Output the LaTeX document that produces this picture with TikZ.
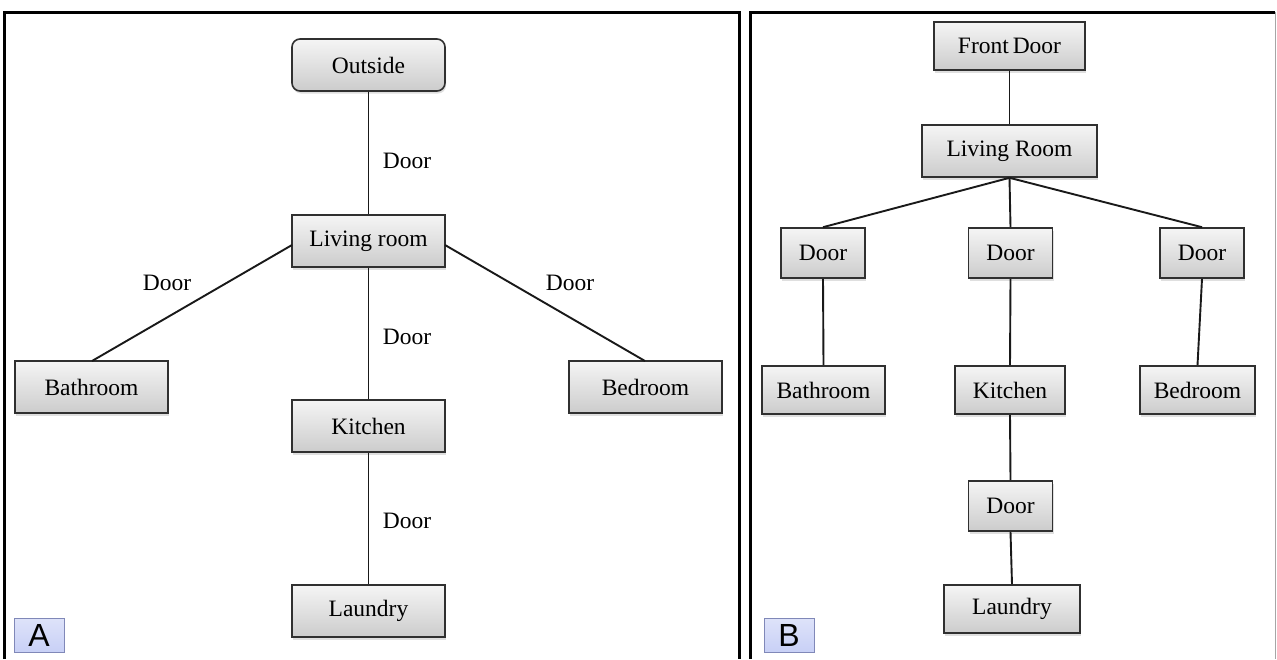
\documentclass[tikz,border=0pt]{standalone}
\usepackage{fontspec}
\setmainfont{Liberation Serif}
\newfontfamily\labelfont{Liberation Sans}
\usetikzlibrary{shadows}
\definecolor{boxedge}{HTML}{303030}
\definecolor{tagblue}{HTML}{C8D0F6}
\definecolor{tagedge}{HTML}{8088B8}
\tikzset{
  room/.style={draw=boxedge, line width=1.6pt, top color=gray!8, bottom color=gray!40,
    minimum height=52pt, inner sep=0pt, font=\fontsize{23.5}{25}\selectfont,
    drop shadow={opacity=0.25, shadow xshift=1pt, shadow yshift=-2.5pt}},
  roomb/.style={room, minimum height=48pt},
  link/.style={line width=1.9pt, black!90},
  doorlabel/.style={font=\fontsize{23.5}{25}\selectfont},
  panel/.style={line width=3pt, black},
  tag/.style={draw=tagedge, line width=0.8pt, top color=tagblue!60, bottom color=tagblue,
    minimum width=50pt, minimum height=34pt, inner sep=0pt,
    font=\labelfont\fontsize{32}{34}\selectfont}
}
\begin{document}
\begin{tikzpicture}[x=1pt,y=-1pt]
\useasboundingbox (0,0) rectangle (1277,659);
\fill[white] (0,0) rectangle (1277,659);

% panel frames
\draw[panel] (4.5,659) -- (4.5,12) -- (739,12) -- (739,659);
\draw[panel] (750.5,659) -- (750.5,12) -- (1275,12);
\draw[gray!70, line width=1pt] (1275,12) -- (1275,659);

% ---------- floor plan graph ----------
\node[room, rounded corners=8pt, minimum width=153pt] (out) at (368.5,65) {Outside};
\node[room, minimum width=153pt] (liv) at (368.5,241) {Living room};
\node[room, minimum width=153pt] (bath) at (91.5,387) {Bathroom};
\node[room, minimum width=153pt] (bed) at (645.5,387) {Bedroom};
\node[room, minimum width=153pt] (kit) at (368.5,426) {Kitchen};
\node[room, minimum width=153pt] (lau) at (368.5,611) {Laundry};

\coordinate (livL) at (292,245);
\coordinate (livR) at (445,245);
\coordinate (bathT) at (92,361);
\coordinate (bedT) at (645,361);

\draw[link] (out.south) -- (liv.north);
\draw[link] (livL) -- (bathT);
\draw[link] (livR) -- (bedT);
\draw[link] (liv.south) -- (kit.north);
\draw[link] (kit.south) -- (lau.north);

\node[doorlabel] (d1) at (407,161) {Door};
\node[doorlabel] (d2) at (167,283) {Door};
\node[doorlabel] (d3) at (570,283) {Door};
\node[doorlabel] (d4) at (407,337) {Door};
\node[doorlabel] (d5) at (407,521) {Door};

\node[tag] (tagA) at (39,635) {A};

% ---------- tree graph ----------
\node[roomb, minimum width=151pt] (fd) at (1009.5,46) {Front\,Door};
\node[roomb, minimum width=175pt, minimum height=52pt] (lr) at (1009.5,151) {Living Room};
\node[roomb, minimum width=84pt, minimum height=50pt] (dl) at (823,253) {Door};
\node[roomb, minimum width=84pt, minimum height=50pt] (dm) at (1010.5,253) {Door};
\node[roomb, minimum width=84pt, minimum height=50pt] (dr) at (1202,253) {Door};
\node[roomb, minimum width=123pt] (bb) at (823.5,390) {Bathroom};
\node[roomb, minimum width=110pt] (kb) at (1010,390) {Kitchen};
\node[roomb, minimum width=115pt] (rb) at (1197.5,390) {Bedroom};
\node[roomb, minimum width=84pt, minimum height=50pt] (db) at (1010.5,506) {Door};
\node[roomb, minimum width=136pt] (lb) at (1012,609) {Laundry};

\draw[link] (fd.south) -- (lr.north);
\draw[link] (lr.south) -- (dl.north);
\draw[link] (lr.south) -- (dm.north);
\draw[link] (lr.south) -- (dr.north);
\draw[link] (dl.south) -- (bb.north);
\draw[link] (dm.south) -- (kb.north);
\draw[link] (dr.south) -- (rb.north);
\draw[link] (kb.south) -- (db.north);
\draw[link] (db.south) -- (lb.north);

\node[tag] (tagB) at (789,635) {B};
\end{tikzpicture}
\end{document}
